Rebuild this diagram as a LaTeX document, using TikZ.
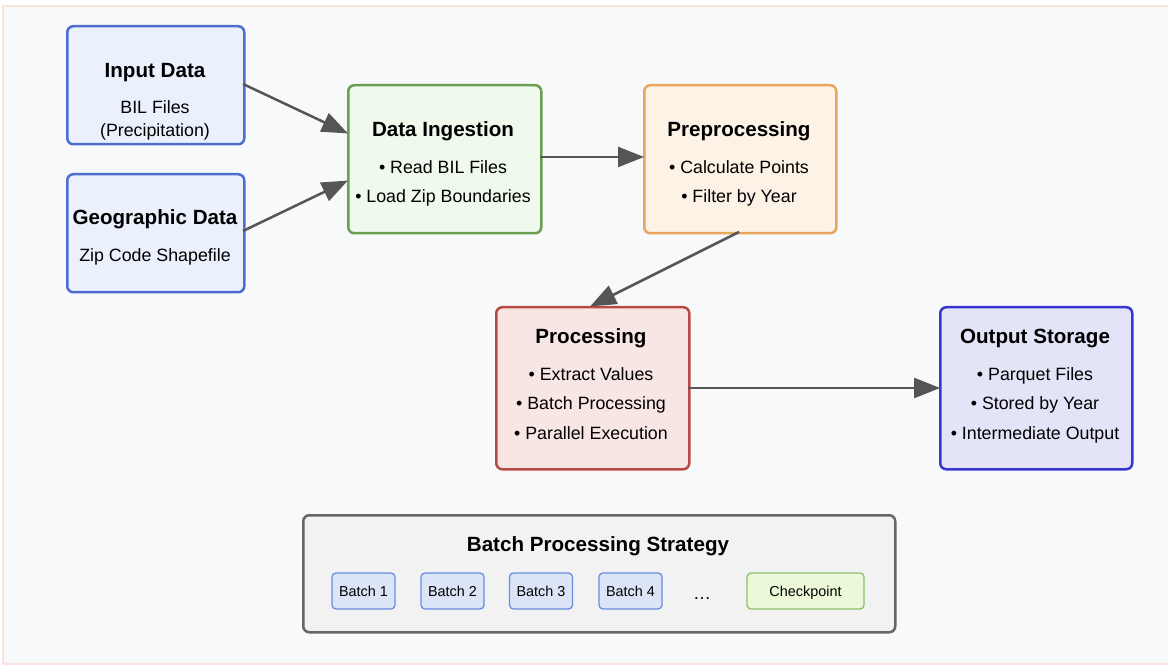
\documentclass[tikz,border=0pt]{standalone}
\usepackage{fontspec}
\setmainfont{Liberation Sans}
\usetikzlibrary{arrows.meta}
\definecolor{bgfill}{HTML}{F8F9FA}
\definecolor{bgline}{HTML}{FBE3E0}
\definecolor{inFill}{HTML}{EAF1FC}
\definecolor{inLine}{HTML}{4E6DCF}
\definecolor{ingFill}{HTML}{EFFAEC}
\definecolor{ingLine}{HTML}{6A9E51}
\definecolor{preFill}{HTML}{FCF2E6}
\definecolor{preLine}{HTML}{E9A55C}
\definecolor{procFill}{HTML}{F8E6E4}
\definecolor{procLine}{HTML}{B84A45}
\definecolor{outFill}{HTML}{E4E4F8}
\definecolor{outLine}{HTML}{3737CF}
\definecolor{strFill}{HTML}{F2F2F2}
\definecolor{strLine}{HTML}{666666}
\definecolor{batFill}{HTML}{DCE5F8}
\definecolor{batLine}{HTML}{6A8DE0}
\definecolor{ckFill}{HTML}{EBF9D8}
\definecolor{ckLine}{HTML}{8DBE6B}
\definecolor{arr}{HTML}{555555}
\tikzset{
  box/.style={draw, line width=2.5pt, rounded corners=6pt, inner sep=0pt, anchor=north west},
  ttl/.style={font=\fontsize{20.6}{24}\selectfont\bfseries, inner sep=0pt, anchor=base, yshift=-7.4pt},
  txt/.style={font=\fontsize{17.8}{21}\selectfont, inner sep=0pt, anchor=base, yshift=-6.4pt},
  small/.style={font=\fontsize{18}{21}\selectfont, inner sep=0pt, anchor=base},
  conn/.style={draw=arr, line width=2.5pt, -{Triangle[length=26pt,width=20pt]}, shorten >=-1pt},
  bat/.style={draw=batLine, fill=batFill, line width=1.3pt, rounded corners=4pt, minimum width=63pt, minimum height=36pt, inner sep=0pt, text height=10.3pt, text depth=0pt, font=\fontsize{14.4}{17}\selectfont},
}
\begin{document}
\begin{tikzpicture}[x=1pt,y=-1pt]
\useasboundingbox (0,0) rectangle (1168,668);
\fill[white] (0,0) rectangle (1168,668);
\draw[bgline, fill=bgfill, line width=1.5pt] (3,6) rectangle (1170,664);

% boxes
\node[box, fill=inFill, draw=inLine, minimum width=177pt, minimum height=118pt] (input) at (66,25) {};
\node[ttl] (inputT) at (155,70) {Input Data};
\node[txt] (inputA) at (155,107) {BIL Files};
\node[txt] (inputB) at (155,130) {(Precipitation)};

\node[box, fill=inFill, draw=inLine, minimum width=177pt, minimum height=118pt] (geo) at (66,173) {};
\node[ttl] (geoT) at (155,217) {Geographic Data};
\node[txt] (geoA) at (155,255) {Zip Code Shapefile};

\node[box, fill=ingFill, draw=ingLine, minimum width=193pt, minimum height=148pt] (ing) at (347,84) {};
\node[ttl] (ingT) at (443,129) {Data Ingestion};
\node[txt] (ingA) at (443,167) {• Read BIL Files};
\node[txt] (ingB) at (443,196) {• Load Zip Boundaries};

\node[box, fill=preFill, draw=preLine, minimum width=192pt, minimum height=148pt] (pre) at (643,84) {};
\node[ttl] (preT) at (739,129) {Preprocessing};
\node[txt] (preA) at (739,167) {• Calculate Points};
\node[txt] (preB) at (739,196) {• Filter by Year};

\node[box, fill=procFill, draw=procLine, minimum width=193pt, minimum height=162pt] (proc) at (495,306) {};
\node[ttl] (procT) at (591,336) {Processing};
\node[txt] (procA) at (591,374) {• Extract Values};
\node[txt] (procB) at (591,403) {• Batch Processing};
\node[txt] (procC) at (591,433) {• Parallel Execution};

\node[box, fill=outFill, draw=outLine, minimum width=192pt, minimum height=162pt] (out) at (939,306) {};
\node[ttl] (outT) at (1035,336) {Output Storage};
\node[txt] (outA) at (1035,374) {• Parquet Files};
\node[txt] (outB) at (1035,403) {• Stored by Year};
\node[txt] (outC) at (1035,433) {• Intermediate Output};

% strategy
\node[box, fill=strFill, draw=strLine, minimum width=592pt, minimum height=117pt] (str) at (302,514) {};
\node[ttl] (strT) at (598,544) {Batch Processing Strategy};
\node[bat] (b1) at (363.5,591) {Batch 1};
\node[bat] (b2) at (452.5,591) {Batch 2};
\node[bat] (b3) at (541,591) {Batch 3};
\node[bat] (b4) at (630.5,591) {Batch 4};
\node[small] (dots) at (702,599) {…};
\node[bat, draw=ckLine, fill=ckFill, minimum width=117pt] (ck) at (805.5,591) {Checkpoint};

% connectors
\coordinate (i1) at (243,84);
\coordinate (i2) at (347,133);
\coordinate (g1) at (243,231);
\coordinate (g2) at (347,181);
\coordinate (d1) at (540,157);
\coordinate (d2) at (643,157);
\coordinate (p1) at (739,232);
\coordinate (p2) at (591,306);
\coordinate (r1) at (688,388);
\coordinate (r2) at (939,388);
\draw[conn] (i1) -- (i2);
\draw[conn] (g1) -- (g2);
\draw[conn] (d1) -- (d2);
\draw[conn] (p1) -- (p2);
\draw[conn] (r1) -- (r2);
\end{tikzpicture}
\end{document}
